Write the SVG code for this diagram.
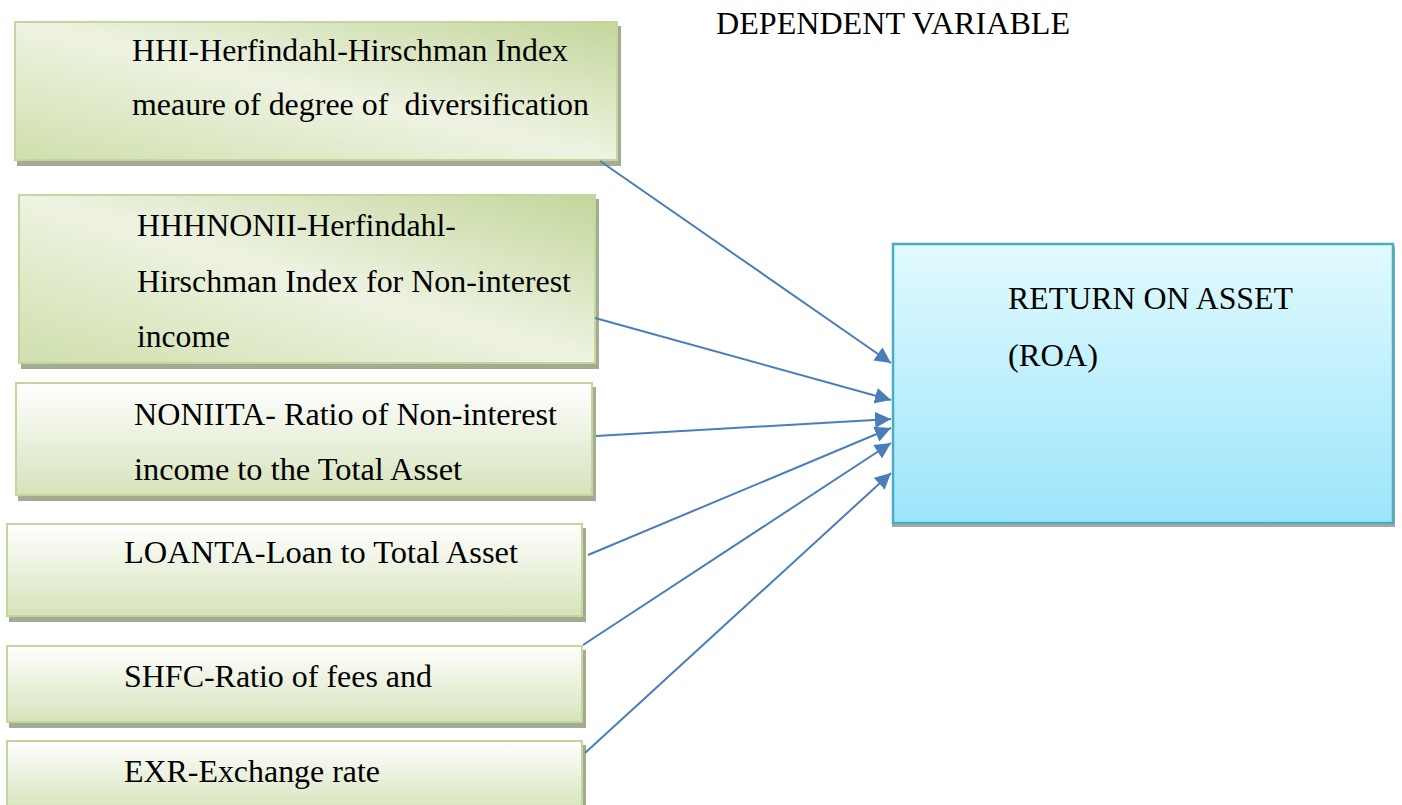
<svg xmlns="http://www.w3.org/2000/svg" width="1402" height="805" viewBox="0 0 1402 805">
<defs>
<linearGradient id="gDiag" x1="1" y1="0" x2="0" y2="1">
<stop offset="0" stop-color="#c3d69b"/>
<stop offset="0.5" stop-color="#eef3e2"/>
<stop offset="1" stop-color="#cfdfac"/>
</linearGradient>
<linearGradient id="gVert" x1="0" y1="0" x2="0" y2="1">
<stop offset="0" stop-color="#ffffff"/>
<stop offset="1" stop-color="#d6e3bb"/>
</linearGradient>
<linearGradient id="gBlue" x1="0" y1="0" x2="0" y2="1">
<stop offset="0" stop-color="#e1fafe"/>
<stop offset="1" stop-color="#9de5fb"/>
</linearGradient>
<marker id="arr" viewBox="0 0 10 10" refX="10" refY="5" markerWidth="8" markerHeight="8" markerUnits="strokeWidth" orient="auto">
<path d="M0,0 L10,5 L0,10 z" fill="#4a7ebb"/>
</marker>
</defs>
<style>
.shadow{fill:#a3ab92}
.box{stroke:#c3d69b;stroke-width:2}
.diag{fill:url(#gDiag)}
.vert{fill:url(#gVert)}
.roa{fill:url(#gBlue);stroke:#4bacc6;stroke-width:2.5}
.roash{fill:#a6a6a6}
text{font-family:"Liberation Serif","Times New Roman",serif;font-size:32px;fill:#000;white-space:pre}
.conn line{stroke:#4a7ebb;stroke-width:2;marker-end:url(#arr)}
</style>
<rect width="1402" height="805" fill="#ffffff"/>
<text id="label-dependent" x="716" y="34" textLength="354" lengthAdjust="spacingAndGlyphs">DEPENDENT VARIABLE</text>
<g id="node-hhi">
<rect class="shadow" x="17" y="26" width="604" height="140"/>
<rect class="box diag" x="15" y="22" width="602" height="138"/>
<text x="132" y="61" textLength="436" lengthAdjust="spacingAndGlyphs">HHI-Herfindahl-Hirschman Index</text>
<text x="132" y="115" textLength="457" lengthAdjust="spacingAndGlyphs" xml:space="preserve">meaure of degree of  diversification</text>
</g>
<g id="node-hhhnonii">
<rect class="shadow" x="21" y="199" width="578" height="170"/>
<rect class="box diag" x="19" y="195" width="576" height="168"/>
<text x="137" y="236" textLength="319" lengthAdjust="spacingAndGlyphs">HHHNONII-Herfindahl-</text>
<text x="137" y="292" textLength="434" lengthAdjust="spacingAndGlyphs">Hirschman Index for Non-interest</text>
<text x="137" y="347" textLength="93" lengthAdjust="spacingAndGlyphs">income</text>
</g>
<g id="node-noniita">
<rect class="shadow" x="18" y="387" width="578" height="114"/>
<rect class="box vert" x="16" y="383" width="576" height="112"/>
<text x="134" y="425" textLength="423" lengthAdjust="spacingAndGlyphs">NONIITA- Ratio of Non-interest</text>
<text x="134" y="480" textLength="328" lengthAdjust="spacingAndGlyphs">income to the Total Asset</text>
</g>
<g id="node-loanta">
<rect class="shadow" x="9" y="528" width="577" height="94"/>
<rect class="box vert" x="7" y="524" width="575" height="92"/>
<text x="124" y="563" textLength="394" lengthAdjust="spacingAndGlyphs">LOANTA-Loan to Total Asset</text>
</g>
<g id="node-shfc">
<rect class="shadow" x="9" y="650" width="577" height="78"/>
<rect class="box vert" x="7" y="646" width="575" height="76"/>
<text x="124" y="687" textLength="308" lengthAdjust="spacingAndGlyphs">SHFC-Ratio of fees and</text>
</g>
<g id="node-exr">
<rect class="shadow" x="9" y="745" width="577" height="70"/>
<rect class="box vert" x="7" y="741" width="575" height="70"/>
<text x="124" y="782" textLength="256" lengthAdjust="spacingAndGlyphs">EXR-Exchange rate</text>
</g>
<g id="node-roa">
<rect class="roash" x="892" y="246" width="503" height="281"/>
<rect class="roa" x="893" y="244" width="500" height="279"/>
<text x="1008" y="309" textLength="285" lengthAdjust="spacingAndGlyphs">RETURN ON ASSET</text>
<text x="1008" y="366" textLength="90" lengthAdjust="spacingAndGlyphs">(ROA)</text>
</g>
<g id="connectors" class="conn">
<line x1="600" y1="161" x2="891" y2="363"/>
<line x1="595" y1="318" x2="891" y2="400"/>
<line x1="596" y1="436" x2="891" y2="419"/>
<line x1="588" y1="555" x2="891" y2="428"/>
<line x1="583" y1="645" x2="891" y2="443"/>
<line x1="585" y1="753" x2="891" y2="473"/>
</g>
</svg>
